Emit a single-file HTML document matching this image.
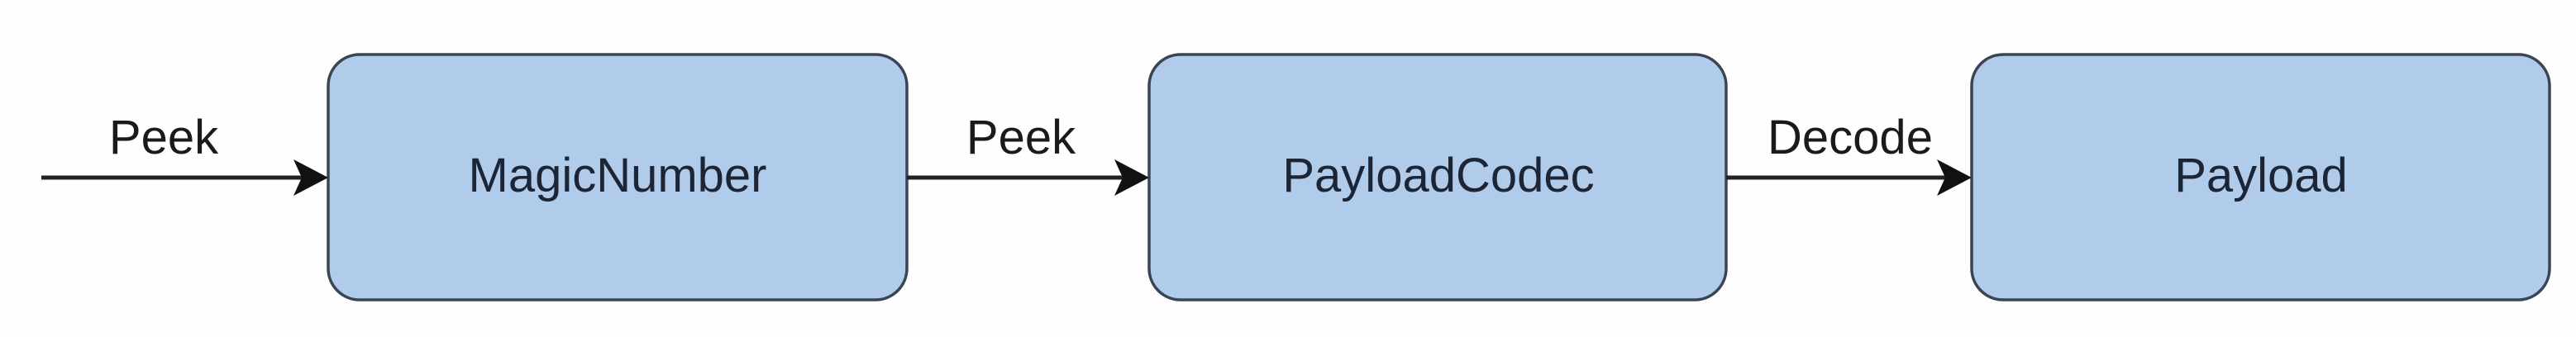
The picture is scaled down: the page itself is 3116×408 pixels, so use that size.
<!DOCTYPE html>
<html><head><meta charset="utf-8"><style>
html,body{margin:0;padding:0;background:#fff;}
svg{display:block;}
text{font-family:"Liberation Sans",Arial,sans-serif;font-size:58px;}
</style></head><body>
<svg width="3116" height="408" viewBox="0 0 3116 408" xmlns="http://www.w3.org/2000/svg">
<rect width="3116" height="408" fill="#fefefe"/>
<g fill="#b1cbea" stroke="#3a4453" stroke-width="3.5">
<rect x="397" y="66" width="700" height="297" rx="38" ry="38"/>
<rect x="1390" y="66" width="698" height="297" rx="38" ry="38"/>
<rect x="2385" y="66" width="699" height="297" rx="38" ry="38"/>
</g>
<g stroke="#222" stroke-width="5">
<line x1="50" y1="215" x2="370" y2="215"/>
<line x1="1097" y1="215" x2="1362" y2="215"/>
<line x1="2088" y1="215" x2="2356" y2="215"/>
</g>
<g fill="#111">
<polygon points="397,215 355,193 365,215 355,237"/>
<polygon points="1390,215 1348,193 1358,215 1348,237"/>
<polygon points="2385,215 2343,193 2353,215 2343,237"/>
</g>
<g fill="#1c2535" text-anchor="middle">
<text x="747" y="232">MagicNumber</text>
<text x="1740" y="232">PayloadCodec</text>
<text x="2735" y="232">Payload</text>
</g>
<g fill="#1a1a1a" text-anchor="middle">
<text x="198" y="186">Peek</text>
<text x="1235" y="186">Peek</text>
<text x="2238" y="186">Decode</text>
</g>
</svg>
</body></html>
